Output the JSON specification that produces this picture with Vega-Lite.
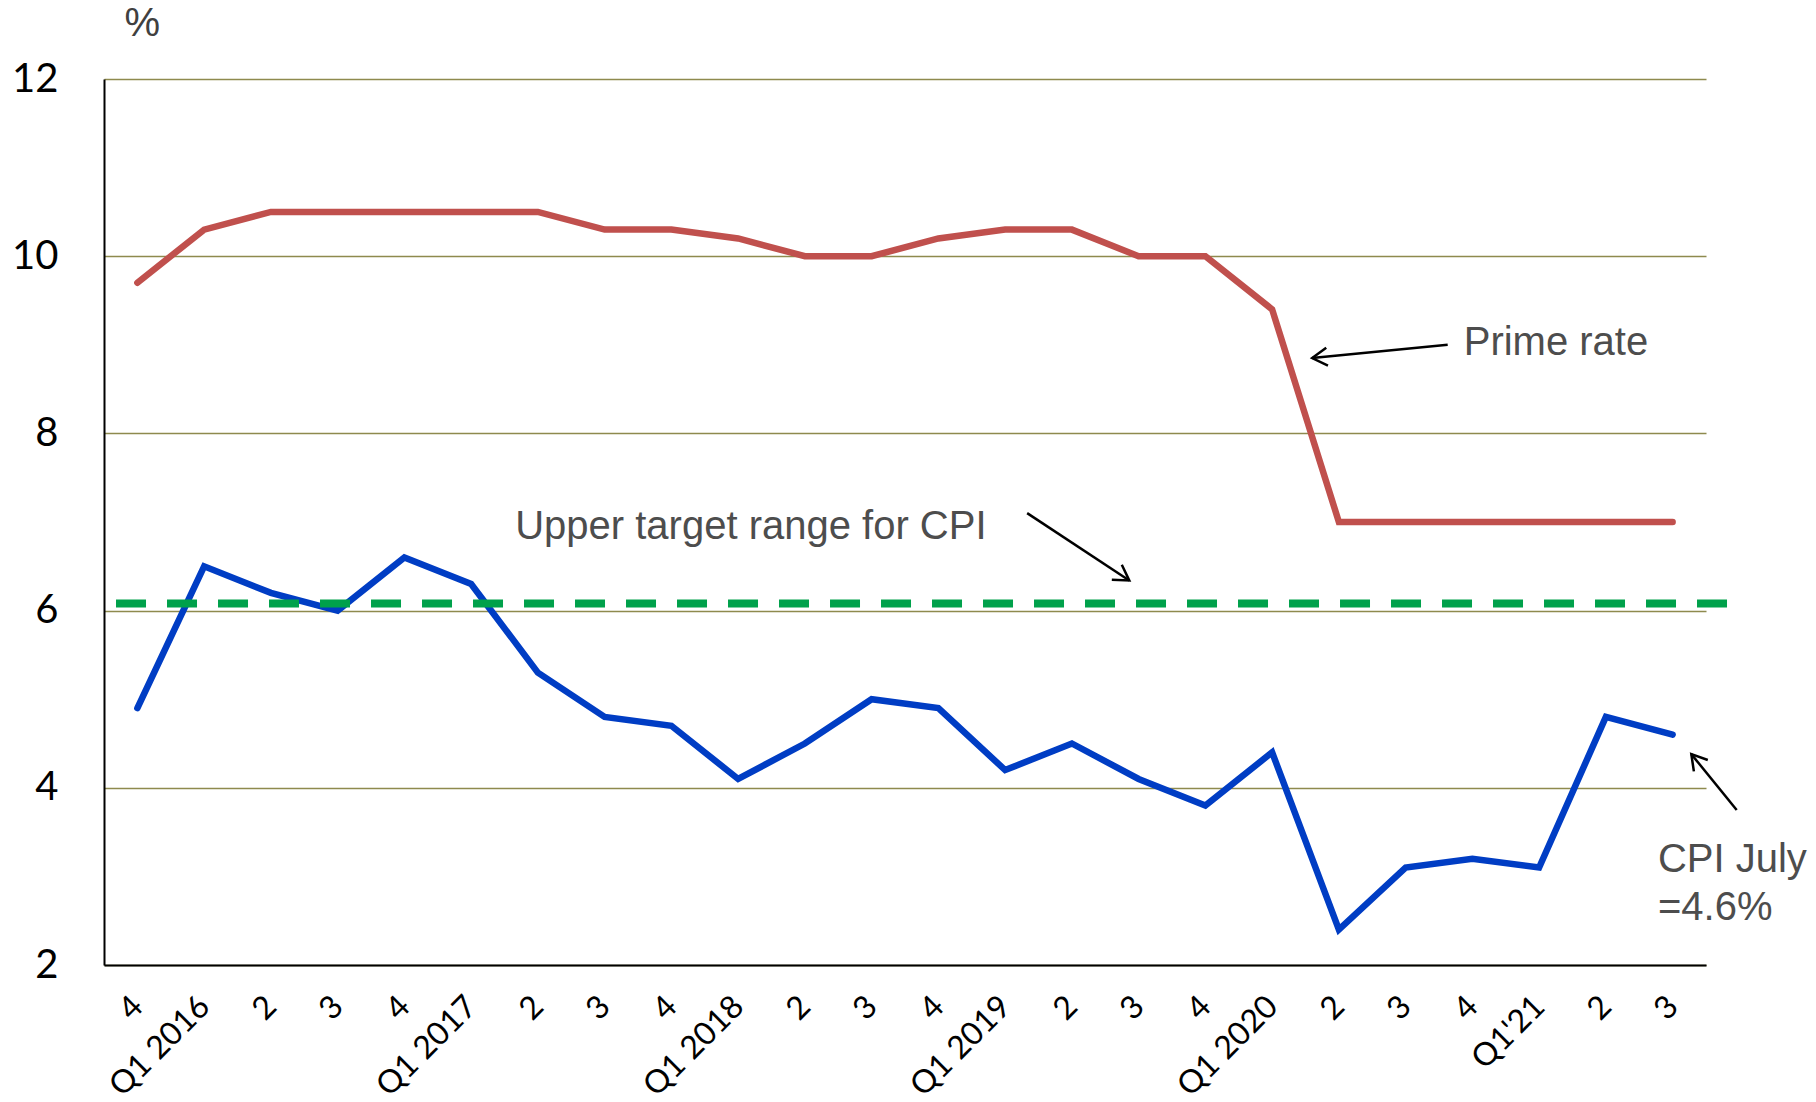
{
  "$schema": "https://vega.github.io/schema/vega-lite/v6.json",
  "width": 1602,
  "height": 886,
  "autosize": {"type": "none"},
  "padding": {"left": 104, "top": 79, "right": 110, "bottom": 137},
  "background": "white",
  "config": {"view": {"stroke": null}, "font": "Lato"},
  "layer": [
    {
      "data": {
        "values": [
          {"period": "2015Q4|4", "series": "Prime rate", "value": 9.7},
          {"period": "2016Q1|Q1 2016", "series": "Prime rate", "value": 10.3},
          {"period": "2016Q2|2", "series": "Prime rate", "value": 10.5},
          {"period": "2016Q3|3", "series": "Prime rate", "value": 10.5},
          {"period": "2016Q4|4", "series": "Prime rate", "value": 10.5},
          {"period": "2017Q1|Q1 2017", "series": "Prime rate", "value": 10.5},
          {"period": "2017Q2|2", "series": "Prime rate", "value": 10.5},
          {"period": "2017Q3|3", "series": "Prime rate", "value": 10.3},
          {"period": "2017Q4|4", "series": "Prime rate", "value": 10.3},
          {"period": "2018Q1|Q1 2018", "series": "Prime rate", "value": 10.2},
          {"period": "2018Q2|2", "series": "Prime rate", "value": 10.0},
          {"period": "2018Q3|3", "series": "Prime rate", "value": 10.0},
          {"period": "2018Q4|4", "series": "Prime rate", "value": 10.2},
          {"period": "2019Q1|Q1 2019", "series": "Prime rate", "value": 10.3},
          {"period": "2019Q2|2", "series": "Prime rate", "value": 10.3},
          {"period": "2019Q3|3", "series": "Prime rate", "value": 10.0},
          {"period": "2019Q4|4", "series": "Prime rate", "value": 10.0},
          {"period": "2020Q1|Q1 2020", "series": "Prime rate", "value": 9.4},
          {"period": "2020Q2|2", "series": "Prime rate", "value": 7.0},
          {"period": "2020Q3|3", "series": "Prime rate", "value": 7.0},
          {"period": "2020Q4|4", "series": "Prime rate", "value": 7.0},
          {"period": "2021Q1|Q1'21", "series": "Prime rate", "value": 7.0},
          {"period": "2021Q2|2", "series": "Prime rate", "value": 7.0},
          {"period": "2021Q3|3", "series": "Prime rate", "value": 7.0},
          {"period": "2015Q4|4", "series": "CPI", "value": 4.9},
          {"period": "2016Q1|Q1 2016", "series": "CPI", "value": 6.5},
          {"period": "2016Q2|2", "series": "CPI", "value": 6.2},
          {"period": "2016Q3|3", "series": "CPI", "value": 6.0},
          {"period": "2016Q4|4", "series": "CPI", "value": 6.6},
          {"period": "2017Q1|Q1 2017", "series": "CPI", "value": 6.3},
          {"period": "2017Q2|2", "series": "CPI", "value": 5.3},
          {"period": "2017Q3|3", "series": "CPI", "value": 4.8},
          {"period": "2017Q4|4", "series": "CPI", "value": 4.7},
          {"period": "2018Q1|Q1 2018", "series": "CPI", "value": 4.1},
          {"period": "2018Q2|2", "series": "CPI", "value": 4.5},
          {"period": "2018Q3|3", "series": "CPI", "value": 5.0},
          {"period": "2018Q4|4", "series": "CPI", "value": 4.9},
          {"period": "2019Q1|Q1 2019", "series": "CPI", "value": 4.2},
          {"period": "2019Q2|2", "series": "CPI", "value": 4.5},
          {"period": "2019Q3|3", "series": "CPI", "value": 4.1},
          {"period": "2019Q4|4", "series": "CPI", "value": 3.8},
          {"period": "2020Q1|Q1 2020", "series": "CPI", "value": 4.4},
          {"period": "2020Q2|2", "series": "CPI", "value": 2.4},
          {"period": "2020Q3|3", "series": "CPI", "value": 3.1},
          {"period": "2020Q4|4", "series": "CPI", "value": 3.2},
          {"period": "2021Q1|Q1'21", "series": "CPI", "value": 3.1},
          {"period": "2021Q2|2", "series": "CPI", "value": 4.8},
          {"period": "2021Q3|3", "series": "CPI", "value": 4.6}
        ]
      },
      "mark": {"type": "line", "strokeWidth": 6.5, "strokeCap": "round", "strokeJoin": "miter"},
      "encoding": {
        "x": {
          "field": "period", "type": "ordinal", "sort": null,
          "scale": {"type": "point", "padding": 0.5},
          "axis": {
            "title": null,
            "labelExpr": "split(datum.label, '|')[1]",
            "labelAngle": -45, "labelAlign": "right", "labelBaseline": "middle",
            "labelFont": "Lato", "labelFontSize": 32, "labelColor": "black",
            "labelPadding": 36, "ticks": false, "grid": false,
            "domainColor": "black", "domainWidth": 2
          }
        },
        "y": {
          "field": "value", "type": "quantitative",
          "scale": {"domain": [2, 12], "nice": false, "zero": false},
          "axis": {
            "title": "%", "titleAngle": 0, "titleAlign": "left", "titleBaseline": "middle",
            "titleX": 20, "titleY": -56, "titleFont": "Liberation Sans", "titleFontSize": 40,
            "titleFontWeight": "normal", "titleColor": "#404040",
            "values": [2, 4, 6, 8, 10, 12], "format": "d",
            "labelFont": "Lato", "labelFontSize": 40, "labelColor": "black", "labelPadding": 46,
            "ticks": false, "grid": true, "gridColor": "#8E8A4E", "gridWidth": 1.5,
            "domainColor": "black", "domainWidth": 2
          }
        },
        "color": {
          "field": "series", "type": "nominal",
          "scale": {"domain": ["Prime rate", "CPI"], "range": ["#C0504D", "#003DC4"]},
          "legend": null
        }
      }
    },
    {
      "data": {"values": [{"ix": 0.18, "ix2": 24.55, "value": 6.08}]},
      "mark": {"type": "rule", "color": "#00A14B", "strokeWidth": 8, "strokeDash": [30, 21]},
      "encoding": {
        "x": {"field": "ix", "type": "quantitative", "scale": {"domain": [0, 24], "nice": false, "zero": false}, "axis": null},
        "x2": {"field": "ix2"},
        "y": {"field": "value", "type": "quantitative"}
      }
    },
    {
      "data": {
        "values": [
          {"ix": 20.13, "value": 9.0, "ix2": 18.1, "value2": 8.85},
          {"ix": 13.83, "value": 7.1, "ix2": 15.36, "value2": 6.34},
          {"ix": 24.46, "value": 3.75, "ix2": 23.78, "value2": 4.38}
        ]
      },
      "mark": {"type": "rule", "color": "black", "strokeWidth": 2.5},
      "encoding": {
        "x": {"field": "ix", "type": "quantitative", "scale": {"domain": [0, 24], "nice": false, "zero": false}, "axis": null},
        "x2": {"field": "ix2"},
        "y": {"field": "value", "type": "quantitative"},
        "y2": {"field": "value2"}
      }
    },
    {
      "data": {
        "values": [
          {"ix": 18.1, "value": 8.85, "angle": 264.5},
          {"ix": 15.36, "value": 6.34, "angle": 123.7},
          {"ix": 23.78, "value": 4.38, "angle": 320.6}
        ]
      },
      "mark": {"type": "point", "shape": "M -0.6 1 L 0 0 L 0.6 1", "filled": false, "stroke": "black", "strokeWidth": 2.5, "size": 900, "opacity": 1},
      "encoding": {
        "x": {"field": "ix", "type": "quantitative", "scale": {"domain": [0, 24], "nice": false, "zero": false}, "axis": null},
        "y": {"field": "value", "type": "quantitative"},
        "angle": {"field": "angle", "type": "quantitative", "scale": null}
      }
    },
    {
      "data": {
        "values": [
          {"ix": 6.16, "value": 6.94, "text": "Upper target range for CPI"},
          {"ix": 20.37, "value": 9.02, "text": "Prime rate"},
          {"ix": 23.28, "value": 3.19, "text": "CPI July"},
          {"ix": 23.28, "value": 2.64, "text": "=4.6%"}
        ]
      },
      "mark": {"type": "text", "align": "left", "baseline": "middle", "font": "Liberation Sans", "fontSize": 40, "color": "#4D4D4D"},
      "encoding": {
        "x": {"field": "ix", "type": "quantitative", "scale": {"domain": [0, 24], "nice": false, "zero": false}, "axis": null},
        "y": {"field": "value", "type": "quantitative"},
        "text": {"field": "text", "type": "nominal"}
      }
    }
  ],
  "resolve": {"scale": {"x": "independent"}}
}
